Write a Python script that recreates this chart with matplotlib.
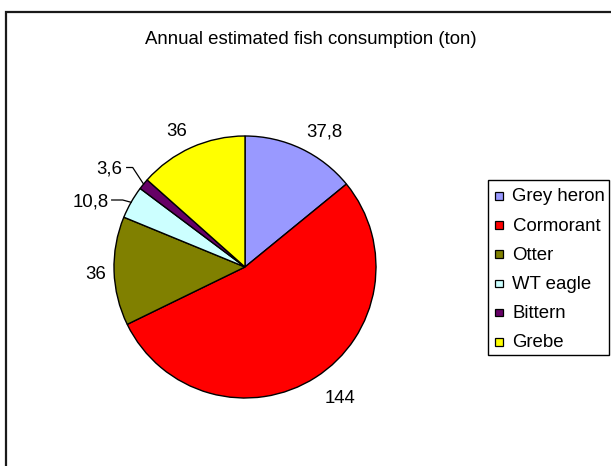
import matplotlib
matplotlib.use("Agg")
import matplotlib.pyplot as plt
from matplotlib.patches import Rectangle
import numpy as np

# Data
species = ["Grey heron", "Cormorant", "Otter", "WT eagle", "Bittern", "Grebe"]
consumption = [37.8, 144, 36, 10.8, 3.6, 36]
colors = ["#9999FF", "#FF0000", "#808000", "#CCFFFF", "#660066", "#FFFF00"]
title = "Annual estimated fish consumption (ton)"

# Layout (pixel space, y measured upward from the bottom of the figure)
W, H = 611, 466
center = (245, H - 267)
radius = 131
FONT = "Liberation Sans"
FS = 13.4

# label anchors (text centre x, baseline y measured from top) per slice
label_pos = {
    "Grey heron": (324, 136.5),
    "Cormorant": (340, 403),
    "Otter": (96, 279),
    "WT eagle": (91, 206.5),
    "Bittern": (109, 173),
    "Grebe": (177, 136.5),
}
# slices whose label is joined to the pie by an elbow leader
leaders = {"WT eagle": (111.7, 122.7, 200), "Bittern": (126.7, 132.7, 167.5)}

# legend box geometry (left, top, right, bottom measured from top)
leg_box = (488, 179.5, 609, 354.5)
leg_first, leg_step = 195.8, 29.2
leg_marker = (495, 7.5)      # left x, side length
leg_text_x = 512.5

plt.rcParams["font.family"] = [FONT, "DejaVu Sans"]

fig = plt.figure(figsize=(W / 100, H / 100), dpi=100)
ax = fig.add_axes([0, 0, 1, 1])

wedges, _ = ax.pie(
    consumption,
    colors=colors,
    startangle=90,
    counterclock=False,
    center=center,
    radius=radius,
    wedgeprops=dict(edgecolor="black", linewidth=1.0),
)
ax.set_xlim(0, W)
ax.set_ylim(0, H)
ax.set_aspect("auto")
ax.axis("off")

# chart area border (runs off the right and bottom edges)
ax.plot([6, 6, W + 20], [-20, H - 11.5, H - 11.5], color="#1a1a1a", lw=1.6,
        solid_joinstyle="miter", clip_on=False)

# title
ax.text(311, H - 44, title, ha="center", va="baseline", fontsize=FS, color="black")

# value labels
for name, val, w in zip(species, consumption, wedges):
    txt = f"{val:g}".replace(".", ",")
    x, yb = label_pos[name]
    ax.text(x, H - yb, txt, ha="center", va="baseline", fontsize=FS, color="black")
    if name in leaders:
        x0, x1, yl = leaders[name]
        mid = np.deg2rad((w.theta1 + w.theta2) / 2)
        ex = center[0] + radius * np.cos(mid)
        ey = center[1] + radius * np.sin(mid)
        ax.plot([x0, x1, ex], [H - yl, H - yl, ey], color="black", lw=0.9)

# legend
l, t, r, b = leg_box
ax.add_patch(Rectangle((l, H - b), r - l, b - t, facecolor="white",
                       edgecolor="black", lw=1.0, zorder=3))
mx, ms = leg_marker
for i, (name, w) in enumerate(zip(species, wedges)):
    yc = leg_first + i * leg_step
    ax.add_patch(Rectangle((mx, H - yc - ms / 2), ms, ms,
                           facecolor=w.get_facecolor(), edgecolor="black",
                           lw=0.9, zorder=4))
    ax.text(leg_text_x, H - yc - 5.6, name, ha="left", va="baseline",
            fontsize=FS, color="black", zorder=4)

fig.savefig("out.png", dpi=100, facecolor="white")
